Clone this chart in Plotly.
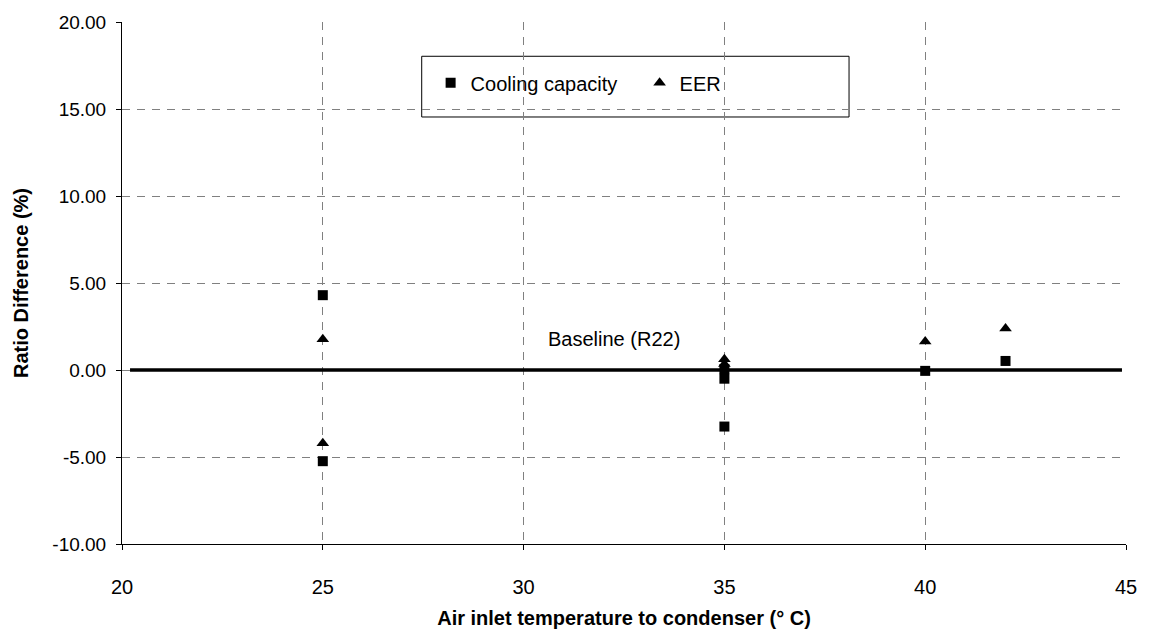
import plotly.graph_objects as go

# Data
cap_x = [25, 25, 35, 35, 35, 40, 42]
cap_y = [4.30, -5.24, 0.05, -0.50, -3.25, -0.05, 0.52]
eer_x = [25, 25, 35, 35, 40, 42]
eer_y = [1.77, -4.21, 0.62, 0.35, 1.64, 2.38]
base_x = [20.2, 44.9]
base_y = [0.0, 0.0]
x_ticks = [20, 25, 30, 35, 40, 45]
y_ticks = [-10, -5, 0, 5, 10, 15, 20]

FONT = "Liberation Sans, Arial, sans-serif"
FS = 20

fig = go.Figure()
fig.add_trace(go.Scatter(x=base_x, y=base_y, mode="lines",
                         line=dict(color="black", width=3.5),
                         showlegend=False, hoverinfo="skip"))
fig.add_trace(go.Scatter(x=cap_x, y=cap_y, mode="markers", name="Cooling capacity",
                         marker=dict(symbol="square", size=10, color="black")))
fig.add_trace(go.Scatter(x=eer_x, y=eer_y, mode="markers", name="EER",
                         marker=dict(symbol="triangle-up", size=11, color="black")))

fig.add_annotation(x=32.24, y=1.77, text="Baseline (R22)", showarrow=False,
                   font=dict(family=FONT, size=FS, color="black"))

T, B = 12, 545
H = B - T
# legend box
fig.add_shape(type="rect", xref="paper", yref="paper",
              x0=(425 - 122) / 1015, x1=(857 - 122) / 1015,
              y0=(B - 109) / H, y1=(B - 47) / H,
              line=dict(color="black", width=1), fillcolor="white", layer="below")

grid = dict(showgrid=True, gridcolor="#808080", gridwidth=1, griddash="8px,7px")

fig.update_layout(
    width=1149, height=637,
    margin=dict(l=122, r=12, t=T, b=637 - B),
    paper_bgcolor="white", plot_bgcolor="white",
    font=dict(family=FONT, size=FS, color="black"),
    showlegend=True,
    legend=dict(orientation="h", x=(434 - 122) / 1015, xanchor="left",
                y=(B - 74) / H, yanchor="middle",
                bgcolor="rgba(0,0,0,0)", borderwidth=0,
                font=dict(family=FONT, size=FS, color="black"),
                entrywidth=164, entrywidthmode="pixels"),
    xaxis=dict(range=[20, 45], tickvals=x_ticks, ticktext=[str(v) for v in x_ticks],
               showline=True, linecolor="black", linewidth=1,
               ticks="outside", ticklen=5, tickcolor="black",
               ticklabelstandoff=20, zeroline=False,
               title=dict(text="<b>Air inlet temperature to condenser (° C)</b>",
                          font=dict(family=FONT, size=FS), standoff=13),
               **grid),
    yaxis=dict(range=[-10, 20], tickvals=y_ticks, ticktext=[f"{v:.2f}" for v in y_ticks],
               showline=True, linecolor="black", linewidth=1,
               ticks="outside", ticklen=5, tickcolor="black",
               ticklabelstandoff=6, zeroline=False, tickfont=dict(size=19),
               title=dict(text="<b>Ratio Difference (%)</b>",
                          font=dict(family=FONT, size=FS), standoff=18),
               **grid),
)

fig.write_html("out.html", config={"staticPlot": True},
               post_script="document.body.style.margin='0';")
